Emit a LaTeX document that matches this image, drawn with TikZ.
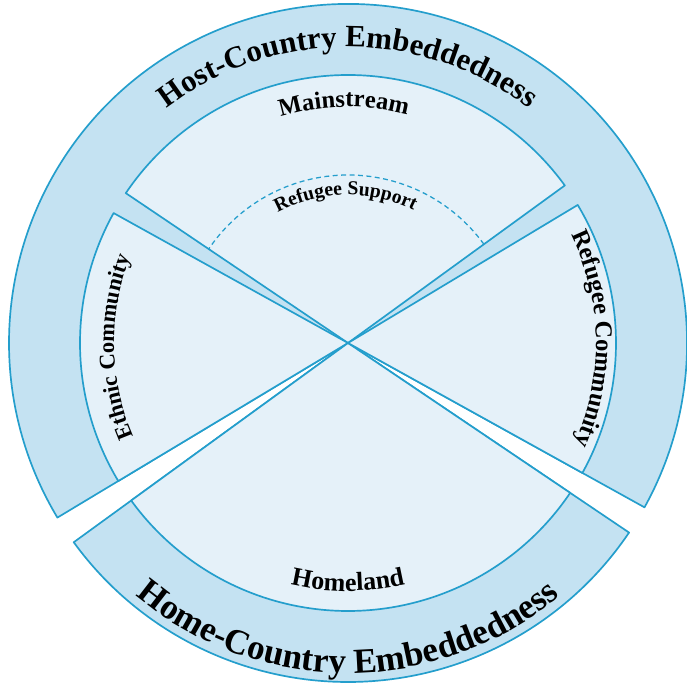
\documentclass[tikz,border=0pt]{standalone}
\usepackage{fontspec}
\setmainfont{Liberation Serif}
\usetikzlibrary{decorations.text}
\definecolor{ringblue}{RGB}{196,226,242}
\definecolor{innerblue}{RGB}{229,241,249}
\definecolor{lineblue}{RGB}{36,158,204}
\tikzset{
    ring/.style={fill=ringblue, draw=lineblue, line width=1.2pt, line join=round},
    sector/.style={fill=innerblue, draw=lineblue, line width=1.2pt, line join=round},
    curvedtext/.style={decorate, decoration={text along path, text align=center, text={#1}}}
}
\begin{document}
\begin{tikzpicture}
                \useasboundingbox (-8.7,-8.525) rectangle (8.475,8.575);

                \filldraw[ring] (0,0) -- (-29:8.475) arc[start angle=-29, end angle=211, radius=8.475] -- cycle;
                \filldraw[ring] (0,0) -- (216:8.475) arc[start angle=216, end angle=326, radius=8.475] -- cycle;

                \filldraw[sector] (0,0) -- (36:6.7) arc[start angle=36, end angle=146, radius=6.7] -- cycle;
                \filldraw[sector] (0,0) -- (151:6.7) arc[start angle=151, end angle=211, radius=6.7] -- cycle;
                \filldraw[sector] (0,0) -- (216:6.7) arc[start angle=216, end angle=326, radius=6.7] -- cycle;
                \filldraw[sector] (0,0) -- (-29:6.7) arc[start angle=-29, end angle=31, radius=6.7] -- cycle;

                \draw[lineblue, line width=0.9pt, dash pattern=on 3.5pt off 2.5pt] (36:4.2) arc[start angle=36, end angle=146, radius=4.2];

                \path[curvedtext={|\fontsize{22}{26}\selectfont\bfseries|Host-Country Embeddedness}] (150:7.4) arc[start angle=150, end angle=30, radius=7.4];
                \path[curvedtext={|\fontsize{25}{30}\selectfont\bfseries|Home-Country Embeddedness}] (210:8.25) arc[start angle=210, end angle=330, radius=8.25];

                \path[curvedtext={|\fontsize{17.5}{20}\selectfont\bfseries|Mainstream}] (141:5.9) arc[start angle=141, end angle=41, radius=5.9];
                \path[curvedtext={|\fontsize{14}{17}\selectfont\bfseries|Refugee Support}] (141:3.7) arc[start angle=141, end angle=41, radius=3.7];
                \path[curvedtext={|\fontsize{16}{19}\selectfont\bfseries|Ethnic Community}] (211:5.85) arc[start angle=211, end angle=151, radius=5.85];
                \path[curvedtext={|\fontsize{17.5}{21}\selectfont\bfseries|Refugee Community}] (31:6.2) arc[start angle=31, end angle=-29, radius=6.2];
                \path[curvedtext={|\fontsize{18.5}{22}\selectfont\bfseries|Homeland}] (240:6.2) arc[start angle=240, end angle=300, radius=6.2];
\end{tikzpicture}
\end{document}
